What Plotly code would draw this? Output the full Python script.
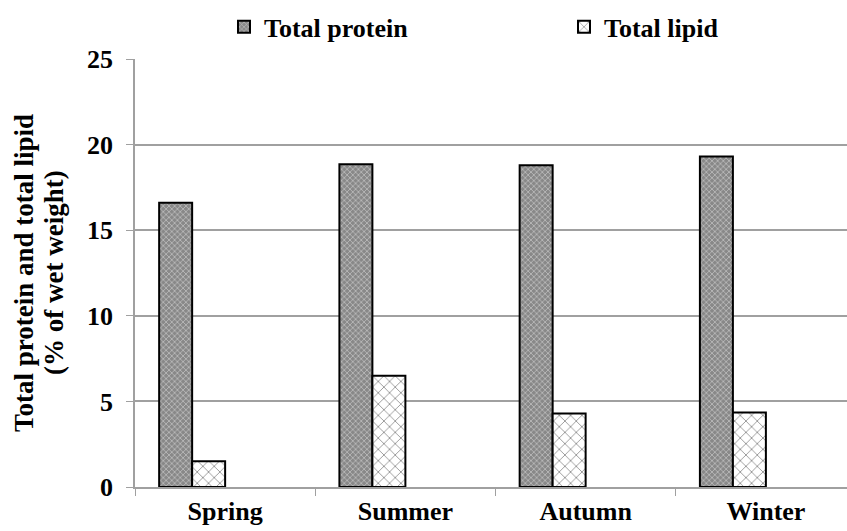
import plotly.graph_objects as go

seasons = ["Spring", "Summer", "Autumn", "Winter"]
total_protein = [16.6, 18.85, 18.8, 19.3]
total_lipid = [1.5, 6.5, 4.3, 4.35]
series_names = ["Total protein", "Total lipid"]
y_ticks = [0, 5, 10, 15, 20, 25]
y_title_lines = ["Total protein and total lipid", "(% of wet weight)"]

FONT = "Times New Roman, Liberation Serif, serif"

fig = go.Figure()
fig.add_trace(go.Bar(
    x=seasons, y=total_protein, name=series_names[0],
    width=0.183, offset=-0.366,
    marker=dict(color="#8c8c8c", line=dict(color="black", width=2),
                pattern=dict(shape="x", size=4, solidity=0.33, fgcolor="white", bgcolor="#888888")),
))
fig.add_trace(go.Bar(
    x=seasons, y=total_lipid, name=series_names[1],
    width=0.183, offset=-0.183,
    marker=dict(color="white", line=dict(color="black", width=2),
                pattern=dict(shape="x", size=8, solidity=0.18, fgcolor="black", bgcolor="white")),
))

# two-line y-axis title as rotated annotations
for txt, shift in zip(y_title_lines, [-111, -81]):
    fig.add_annotation(text=txt, xref="paper", yref="paper", x=0, y=0.5,
                       xanchor="center", yanchor="middle", xshift=shift,
                       textangle=-90, showarrow=False,
                       font=dict(family=FONT, size=27, weight="bold", color="black"))

fig.update_layout(
    width=847, height=531,
    margin=dict(l=135, r=0, t=59, b=44, autoexpand=False),
    plot_bgcolor="white", paper_bgcolor="white",
    font=dict(family=FONT, size=26, color="black", weight="bold"),
    barmode="overlay",
    showlegend=True,
    legend=dict(orientation="h", x=0.125, xanchor="left", y=1.075, yanchor="middle",
                entrywidth=295, entrywidthmode="pixels",
                font=dict(family=FONT, size=26, weight="bold"),
                itemwidth=30, traceorder="normal"),
    xaxis=dict(type="category", categoryorder="array", categoryarray=seasons,
               range=[-0.5, 3.45],
               showline=True, linecolor="#a0a0a0", linewidth=1.5,
               ticks="outside", tickson="boundaries", ticklen=7, tickcolor="#a0a0a0",
               tickfont=dict(family=FONT, size=26, weight="bold"),
               ticklabelstandoff=0,
               showgrid=False),
    yaxis=dict(range=[0, 25], tickvals=y_ticks,
               showline=True, linecolor="#a0a0a0", linewidth=1.5,
               ticks="outside", ticklen=7, tickcolor="#a0a0a0",
               showgrid=True, gridcolor="#a0a0a0", gridwidth=1.5,
               zeroline=False, ticklabelstandoff=8,
               tickfont=dict(family=FONT, size=26, weight="bold")),
)

fig.write_html("out.html")
